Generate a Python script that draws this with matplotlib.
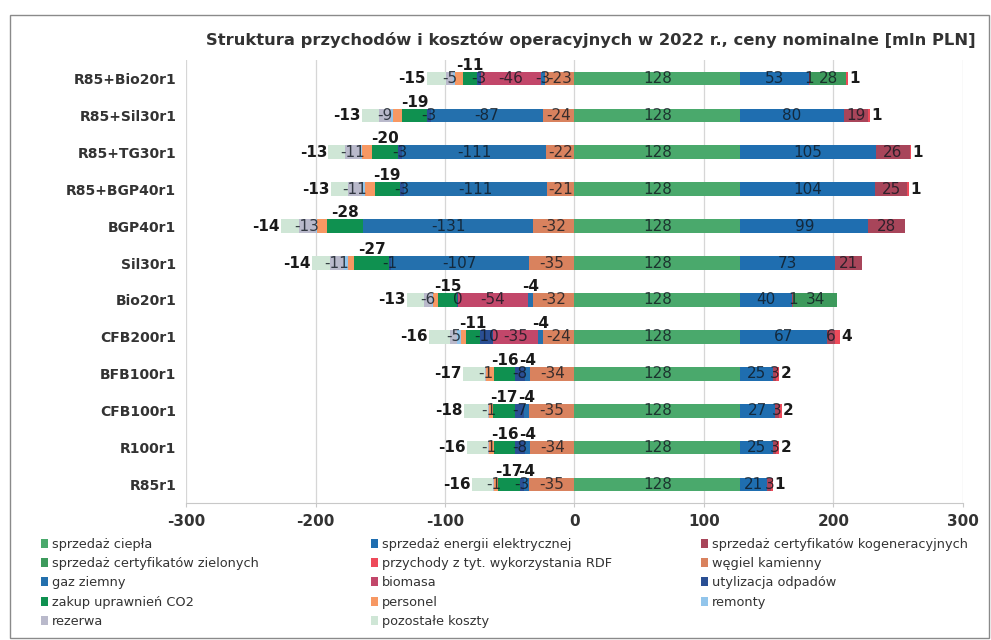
import matplotlib
matplotlib.use("Agg")
import matplotlib.pyplot as plt
from matplotlib.patches import Patch, Rectangle
import numpy as np

plt.rcParams["axes.unicode_minus"] = False

# categories, top to bottom
categories = ["R85+Bio20r1", "R85+Sil30r1", "R85+TG30r1", "R85+BGP40r1", "BGP40r1",
              "Sil30r1", "Bio20r1", "CFB200r1", "BFB100r1", "CFB100r1", "R100r1", "R85r1"]

# revenues [mln PLN]
cieplo = [128, 128, 128, 128, 128, 128, 128, 128, 128, 128, 128, 128]
energia = [53, 80, 105, 104, 99, 73, 40, 67, 25, 27, 25, 21]
kogen = [1, 19, 26, 25, 28, 21, 1, 6, 3, 3, 3, 3]
zielone = [28, 0, 0, 0, 0, 0, 34, 0, 0, 0, 0, 0]
rdf = [1, 1, 1, 1, 0, 0, 0, 4, 2, 2, 2, 1]

# costs [mln PLN]
wegiel = [-23, -24, -22, -21, -32, -35, -32, -24, -34, -35, -34, -35]
gaz = [-3, -87, -111, -111, -131, -107, -4, -4, -4, -4, -4, -4]
biomasa = [-46, 0, 0, 0, 0, 0, -54, -35, 0, 0, 0, 0]
utylizacja = [-3, -3, -3, -3, 0, -1, -0.4, -10, -8, -7, -8, -3]
co2 = [-11, -19, -20, -19, -28, -27, -15, -11, -16, -17, -16, -17]
personel = [-6, -7, -8, -8, -8, -5, -4, -4, -6, -3, -4, -3]
remonty = [-2, -2, -2, -2, -1, -3, -1, -3, 0, 0, 0, 0]
rezerwa = [-5, -9, -11, -11, -13, -11, -6, -5, -1, -1, -1, -1]
pozostale = [-15, -13, -13, -13, -14, -14, -13, -16, -17, -18, -16, -16]

# (key, legend label, values, colour)
series = [
    ("cieplo", "sprzedaż ciepła", cieplo, "#4aa96c"),
    ("energia", "sprzedaż energii elektrycznej", energia, "#1f6eb0"),
    ("kogen", "sprzedaż certyfikatów kogeneracyjnych", kogen, "#a8455a"),
    ("zielone", "sprzedaż certyfikatów zielonych", zielone, "#3d9a5c"),
    ("rdf", "przychody z tyt. wykorzystania RDF", rdf, "#ee4a5a"),
    ("wegiel", "węgiel kamienny", wegiel, "#d9825e"),
    ("gaz", "gaz ziemny", gaz, "#2470ad"),
    ("biomasa", "biomasa", biomasa, "#c2476a"),
    ("utylizacja", "utylizacja odpadów", utylizacja, "#2a4f94"),
    ("co2", "zakup uprawnień CO2", co2, "#0f9150"),
    ("personel", "personel", personel, "#f79863"),
    ("remonty", "remonty", remonty, "#92c5eb"),
    ("rezerwa", "rezerwa", rezerwa, "#b9b9cb"),
    ("pozostale", "pozostałe koszty", pozostale, "#cfe6d6"),
]

fig = plt.figure(figsize=(9.91, 6.40), dpi=100)
ax = fig.add_axes([0.1877, 0.2141, 0.7840, 0.6922])

y = np.arange(len(categories))
bar_h = 0.37
pos_left = np.zeros(len(categories))
neg_left = np.zeros(len(categories))
seg_info = []

for key, label, vals, col in series:
    v = np.array(vals, dtype=float)
    if v.max() > 0:
        left = pos_left.copy()
        pos_left += v
    else:
        left = neg_left.copy()
        neg_left += v
    ax.barh(y, v, left=left, height=bar_h, color=col, edgecolor="none", zorder=3)
    seg_info.append((key, v, left))

inside_kw = dict(fontsize=11, color="#101820", alpha=0.8, ha="center", va="center", zorder=5)
out_kw = dict(fontsize=11, color="#1a1a1a", fontweight="bold", va="center", zorder=6)

for key, v, left in seg_info:
    if key in ("personel", "remonty"):
        continue
    for i in range(len(categories)):
        if v[i] == 0:
            continue
        txt = f"{round(v[i]):.0f}"
        mid = left[i] + v[i] / 2
        if key == "co2" or (key == "gaz" and abs(v[i]) < 5 and i > 0):
            ax.text(mid, i - 0.36, txt, ha="center", **out_kw)
        elif key == "pozostale":
            ax.text(neg_left[i] - 1, i, txt, ha="right", **out_kw)
        elif key == "rdf":
            ax.text(pos_left[i] + 1, i, txt, ha="left", **out_kw)
        else:
            ax.text(mid, i, txt, **inside_kw)

ax.set_xlim(-300, 300)
ax.set_ylim(len(categories) - 0.5, -0.5)
ax.set_xticks([-300, -200, -100, 0, 100, 200, 300])
ax.set_yticks(y)
ax.set_yticklabels(categories)
ax.grid(axis="x", color="#d6d6d6", lw=0.9, zorder=0)
for s in ("top", "right", "left"):
    ax.spines[s].set_visible(False)
ax.spines["bottom"].set_color("#c8c8c8")
ax.tick_params(axis="x", length=3, color="#c8c8c8", pad=5, labelsize=11, labelcolor="#333333")
ax.tick_params(axis="y", length=0, pad=7, labelsize=10, labelcolor="#333333")
for t in ax.get_xticklabels() + ax.get_yticklabels():
    t.set_fontweight("bold")

fig.text(0.984, 1 - 40 / 640, "Struktura przychodów i kosztów operacyjnych w 2022 r., ceny nominalne [mln PLN]",
         ha="right", va="center", fontsize=11.8, fontweight="bold", color="#333333")

# legend, three columns filled row by row
handles = [Patch(facecolor=c, edgecolor="none", label=l) for _, l, _, c in series]
col_x = [0.041, 0.374, 0.707]
for c in range(3):
    hs = handles[c::3]
    fig.legend(handles=hs, loc="upper left", bbox_to_anchor=(col_x[c], 1 - 538 / 640),
               frameon=False, fontsize=9.3, handlelength=0.55, handleheight=0.7,
               handletextpad=0.35, labelspacing=0.48, borderpad=0, borderaxespad=0,
               labelcolor="#333333")

fig.patches.append(Rectangle((10 / 991, 0.003), 979 / 991, 1 - 15 / 640 - 0.003,
                             transform=fig.transFigure, fill=False, edgecolor="#8a8a8a", lw=1))

fig.savefig("out.png", dpi=100)
